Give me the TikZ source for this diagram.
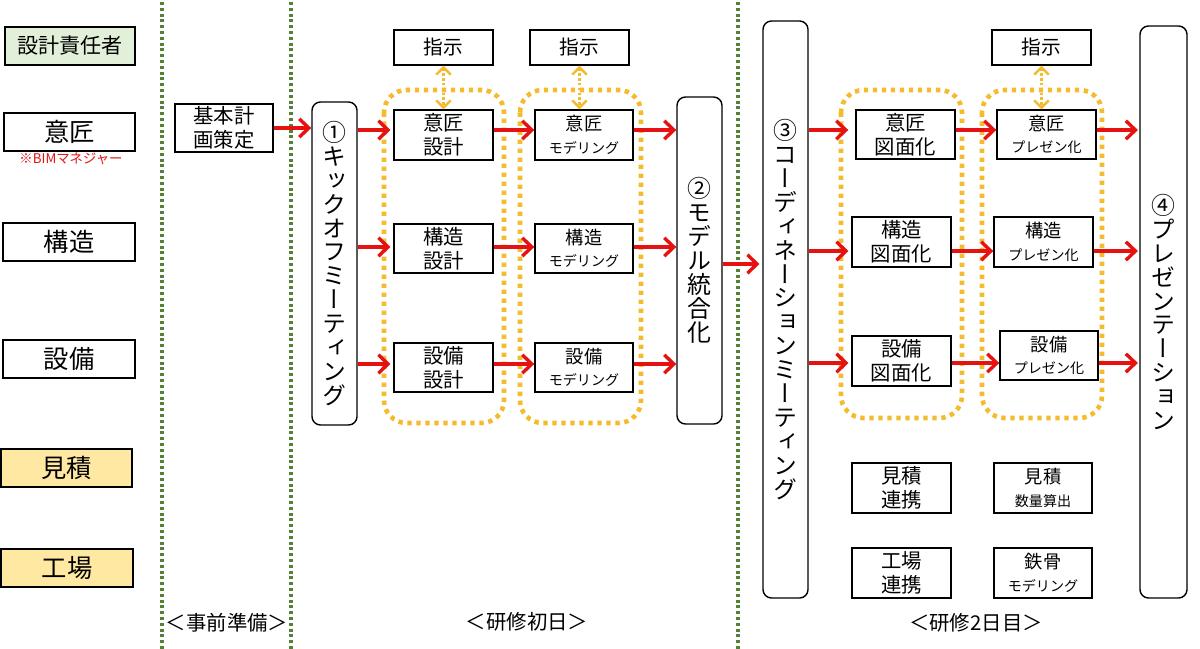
\documentclass[tikz,border=0pt]{standalone}
\usepackage{fontspec}
\setmainfont{Noto Sans CJK JP}
\newfontfamily\vfont[RawFeature={+vert}]{Noto Sans CJK JP}
\usetikzlibrary{arrows.meta}
\definecolor{lgreen}{RGB}{226,240,217}
\definecolor{lyellow}{RGB}{255,232,162}
\definecolor{myred}{RGB}{230,18,18}
\definecolor{gold}{RGB}{244,188,44}
\definecolor{dgreen}{RGB}{84,130,53}
\newcommand\fs[1]{\fontsize{#1pt}{#1pt}\selectfont}
\newcommand\mkbox[7]{%
  \node[#1, minimum width={(#5-#3)*0.025cm}, minimum height={(#6-#4)*0.025cm}] (#2) at ({(#3+#5)/2},{(#4+#6)/2}) {#7};}
\tikzset{
  box/.style={draw=black, line width=1pt, fill=white, inner sep=0pt, align=center,
    font=\fontsize{14.5pt}{17pt}\selectfont},
  lab/.style={box, font=\fontsize{18pt}{20pt}\selectfont},
  big/.style={draw=black, line width=1pt, fill=white, rounded corners=6pt, inner sep=0pt,
    align=center, font=\vfont\fontsize{17pt}{17pt}\selectfont},
  grp/.style={draw=gold, line width=1.15mm, dash pattern=on 1.1mm off 1.15mm, rounded corners=16pt},
  flow/.style={draw=myred, line width=0.85mm, -{Straight Barb[length=2.4mm,width=4.6mm]}},
  instr/.style={draw=gold, line width=0.6mm, dash pattern=on 0.6mm off 0.6mm,
    {Straight Barb[length=1.8mm,width=3.6mm]}-{Straight Barb[length=1.8mm,width=3.6mm]}},
  divider/.style={draw=dgreen, line width=0.85mm, dash pattern=on 0.75mm off 0.7mm},
  period/.style={inner sep=0pt, font=\fontsize{14.5pt}{17pt}\selectfont}
}
\begin{document}
\begin{tikzpicture}[x=0.025cm, y=-0.025cm]
\useasboundingbox (0,0) rectangle (1200,649);
\fill[white] (0,0) rectangle (1200,649);

% dividers
\draw[divider] (162,2) -- (162,649);
\draw[divider] (291,2) -- (291,649);
\draw[divider] (738,2) -- (738,649);

% left role labels
\mkbox{lab, fill=lgreen, font=\fontsize{15pt}{17pt}\selectfont}{r0}{5}{27}{135}{65}{設計責任者}
\mkbox{lab}{r1}{4}{113}{135}{151}{意匠}
\node[text=myred, inner sep=0pt, font=\fontsize{9.5pt}{10pt}\selectfont] (bim) at (71,159) {※BIMマネジャー};
\mkbox{lab}{r2}{3}{223}{135}{261}{構造}
\mkbox{lab}{r3}{3}{340}{135}{378}{設備}
\mkbox{lab, fill=lyellow}{r4}{1}{449}{132}{487}{見積}
\mkbox{lab, fill=lyellow}{r5}{1}{549}{133}{587}{工場}

% preparation
\mkbox{box}{kp}{175}{104}{273}{152}{基本計\\画策定}

% big vertical boxes
\mkbox{big}{ko}{312}{102}{357}{425}{①\\キ\\ッ\\ク\\オ\\フ\\ミ\\ー\\テ\\ィ\\ン\\グ}
\mkbox{big}{mi}{677}{97}{722}{424}{②\\モ\\デ\\ル\\統\\合\\化}
\mkbox{big}{co}{763}{21}{808}{598}{③\\コ\\ー\\デ\\ィ\\ネ\\ー\\シ\\ョ\\ン\\ミ\\ー\\テ\\ィ\\ン\\グ}
\mkbox{big}{pr}{1140}{26}{1187}{598}{④\\プ\\レ\\ゼ\\ン\\テ\\ー\\シ\\ョ\\ン}

% groups
\draw[grp] (384,90) rectangle (504,423);
\draw[grp] (520,90) rectangle (641,423);
\draw[grp] (841,90) rectangle (962,418);
\draw[grp] (982,90) rectangle (1102,418);

% day 1 boxes
\mkbox{box, font=\fontsize{14pt}{17pt}\selectfont}{s1}{394}{30}{493}{65}{指示}
\mkbox{box, font=\fontsize{14pt}{17pt}\selectfont}{s2}{530}{30}{629}{65}{指示}
\mkbox{box}{d1}{394}{110}{493}{160}{意匠\\設計}
\mkbox{box}{d2}{394}{224}{493}{273}{構造\\設計}
\mkbox{box}{d3}{394}{343}{493}{392}{設備\\設計}
\mkbox{box}{m1}{535}{110}{633}{160}{{\fs{13}意匠}\\[-1pt]{\fs{10}モデリング}}
\mkbox{box}{m2}{535}{224}{633}{273}{{\fs{13}構造}\\[-1pt]{\fs{10}モデリング}}
\mkbox{box}{m3}{535}{343}{633}{392}{{\fs{13}設備}\\[-1pt]{\fs{10}モデリング}}

% day 2 boxes
\mkbox{box, font=\fontsize{14pt}{17pt}\selectfont}{s3}{992}{30}{1091}{65}{指示}
\mkbox{box}{g1}{856}{110}{955}{159}{意匠\\図面化}
\mkbox{box}{g2}{852}{217}{951}{267}{構造\\図面化}
\mkbox{box}{g3}{852}{336}{951}{386}{設備\\図面化}
\mkbox{box}{p1}{997}{110}{1096}{159}{{\fs{13}意匠}\\[-1pt]{\fs{10}プレゼン化}}
\mkbox{box}{p2}{994}{217}{1093}{267}{{\fs{13}構造}\\[-1pt]{\fs{10}プレゼン化}}
\mkbox{box}{p3}{1000}{331}{1098}{380}{{\fs{13}設備}\\[-1pt]{\fs{10}プレゼン化}}
\mkbox{box}{e1}{852}{463}{951}{513}{見積\\連携}
\mkbox{box}{e2}{852}{548}{951}{598}{工場\\連携}
\mkbox{box}{q1}{994}{463}{1092}{513}{{\fs{13}見積}\\[-1pt]{\fs{10}数量算出}}
\mkbox{box}{q2}{994}{548}{1092}{598}{{\fs{13}鉄骨}\\[-1pt]{\fs{10}モデリング}}

% instruction arrows
\draw[instr] (s1.south) -- (s1.south |- d1.north);
\draw[instr] (s2.south) -- (s2.south |- m1.north);
\draw[instr] (s3.south) -- (s3.south |- p1.north);

% flow arrows
\draw[flow] (kp.east) -- (ko.west |- kp.east);
\draw[flow] (ko.east |- 0,130) -- ([xshift=-2pt]d1.west |- 0,130);
\draw[flow] (ko.east |- 0,247) -- ([xshift=-2pt]d2.west |- 0,247);
\draw[flow] (ko.east |- 0,364) -- ([xshift=-2pt]d3.west |- 0,364);
\draw[flow] (d1.east |- 0,130) -- (m1.west |- 0,130);
\draw[flow] (d2.east |- 0,247) -- (m2.west |- 0,247);
\draw[flow] (d3.east |- 0,364) -- (m3.west |- 0,364);
\draw[flow] (m1.east |- 0,130) -- (mi.west |- 0,130);
\draw[flow] (m2.east |- 0,247) -- (mi.west |- 0,247);
\draw[flow] (m3.east |- 0,364) -- (mi.west |- 0,364);
\draw[flow] (mi.east |- 0,264) -- ([xshift=-2pt]co.west |- 0,264);
\draw[flow] (co.east |- 0,130) -- ([xshift=-5pt]g1.west |- 0,130);
\draw[flow] (co.east |- 0,251) -- ([xshift=-2pt]g2.west |- 0,251);
\draw[flow] (co.east |- 0,363) -- ([xshift=-2pt]g3.west |- 0,363);
\draw[flow] (g1.east |- 0,130) -- (p1.west |- 0,130);
\draw[flow] (g2.east |- 0,251) -- (p2.west |- 0,251);
\draw[flow] (g3.east |- 0,363) -- (p3.west |- 0,363);
\draw[flow] (p1.east |- 0,130) -- ([xshift=-1pt]pr.west |- 0,130);
\draw[flow] (p2.east |- 0,251) -- ([xshift=-1pt]pr.west |- 0,251);
\draw[flow] (p3.east |- 0,363) -- ([xshift=-1pt]pr.west |- 0,363);

% period labels
\node[period] (t0) at (227,623) {＜事前準備＞};
\node[period] (t1) at (527,622) {＜研修初日＞};
\node[period] (t2) at (976,623) {＜研修2日目＞};
\end{tikzpicture}
\end{document}
